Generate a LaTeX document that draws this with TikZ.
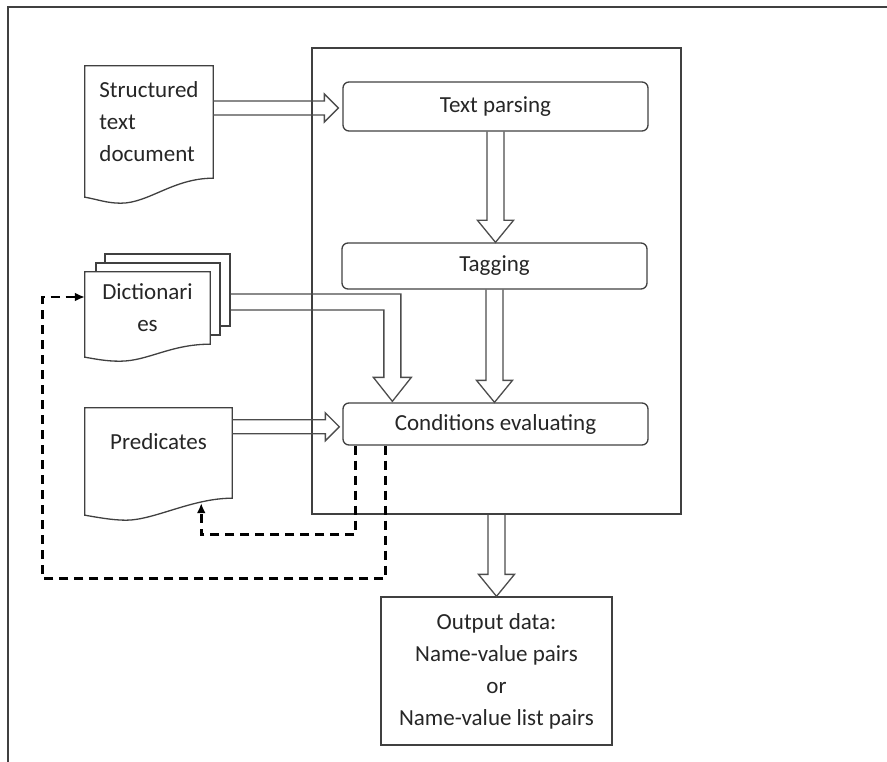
\documentclass[tikz,border=0pt]{standalone}
\usepackage{fontspec}
\setmainfont{Carlito}
\usetikzlibrary{positioning,calc,arrows.meta,backgrounds}

% page outline with a wavy lower edge, hung on a node
\newcommand{\docpath}[3]{(#1.north west) -- (#1.north east) -- (#1.south east)
  .. controls +(-40,0) and +(28,0) .. ($(#1.south west)!0.28!(#1.south east)+(0,#2)$)
  .. controls +(-14,0) and +(12,2) .. ($(#1.south west)+(0,#3)$) -- cycle}
% hollow block arrows
\newcommand{\blockright}[2]{\draw[blockarrow] ($(#1)+(0,-7)$) -- ($(#2|-#1)+(-14,-7)$)
  -- ($(#2|-#1)+(-14,-14)$) -- (#2|-#1) -- ($(#2|-#1)+(-14,14)$)
  -- ($(#2|-#1)+(-14,7)$) -- ($(#1)+(0,7)$);}
\newcommand{\blockdown}[2]{\draw[blockarrow] ($(#1)+(-8.5,0)$) -- ($(#1|-#2)+(-8.5,-22)$)
  -- ($(#1|-#2)+(-18,-22)$) -- (#1|-#2) -- ($(#1|-#2)+(18,-22)$)
  -- ($(#1|-#2)+(8.5,-22)$) -- ($(#1)+(8.5,0)$);}

\begin{document}
\begin{tikzpicture}[x=1pt, y=-1pt,
    every node/.style={font=\fontsize{23}{32}\selectfont, text=black!85},
    procbox/.style={draw=black!75, line width=1.3pt, rounded corners=6pt, minimum width=305pt},
    plainbox/.style={draw=black!75, line width=1.3pt},
    docnode/.style={inner sep=2pt},
    docline/.style={draw=black!75, line width=1.3pt, fill=white},
    blockarrow/.style={draw=black!70, line width=1.3pt},
    feedback/.style={draw=black, line width=2.7pt, dash pattern=on 9pt off 6pt,
        -{Latex[length=10pt,width=9pt]}}]
    \useasboundingbox (0,0) rectangle (887,762);
    \draw[black!75, line width=1.6pt] (887,7) -- (8,7) -- (8,762);

    \node [plainbox, minimum width=369pt, minimum height=466pt] at (496.5,281) (engine) {};
    \node [procbox, minimum height=49pt] at (495.5,106.5) (parse) {Text parsing};
    \node [procbox, minimum height=46pt] at (494.5,266)   (tag)   {Tagging};
    \node [procbox, minimum height=42pt] at (495.5,424)   (cond)  {Conditions evaluating};
    \node [plainbox, align=center, minimum width=231pt, minimum height=148pt]
        at (496.5,671) (out) {Output data:\\Name-value pairs\\or\\Name-value list pairs};

    \node [docnode, align=left, minimum width=128pt, minimum height=112pt] at (149,122) (src) {Structured\\text\\document};
    \node [docnode, align=center, minimum width=125pt, minimum height=72pt] at (147.5,308) (dict) {Dictionari\\es};
    \node [docnode, text depth=22pt, minimum width=147pt, minimum height=90pt] at (158.5,453) (pred) {Predicates};

    \begin{scope}[on background layer]
        \node [docline, minimum width=125pt, minimum height=72pt] at (167.5,290) (dictback) {};
        \node [docline, minimum width=124pt, minimum height=72pt] at (158,299)   (dictmid)  {};
        \draw[docline] \docpath{src}{25}{19};
        \draw[docline] \docpath{dict}{17}{13};
        \draw[docline] \docpath{pred}{22}{17};
    \end{scope}

    \coordinate (srcout)   at ($(src.east)+(0,-14)$);
    \coordinate (parsein)  at ($(parse.west)+(-4,0)$);
    \coordinate (predout)  at ($(pred.north east)+(0,19)$);
    \coordinate (condin)   at ($(cond.west)+(-3,0)$);
    \coordinate (dictin)   at ($(cond.north west)+(50,-1)$);
    \coordinate (predin)   at ($(pred.south west)!0.79!(pred.south east)+(0,5)$);
    \coordinate (dictfbin) at ($(dict.west)+(0,-11)$);
    \coordinate (fbturn)   at ($(cond.south west)+(13,89)$);
    \coordinate (fbdrop)   at ($(cond.south west)+(43,133)$);
    \coordinate (fbcorner) at ($(dictfbin)+(-42,0)$);

    \blockright{srcout}{parsein}
    \blockright{predout}{condin}
    \blockdown{parse.south}{tag.north}
    \blockdown{tag.south}{cond.north}
    \blockdown{engine.south}{out.north}
    \draw[blockarrow] ($(dictback.east)+(0,20)$) -- ($(dictin|-dictback.east)+(-8.5,20)$)
        -- ($(dictin)+(-8.5,-24)$) -- ($(dictin)+(-19,-24)$) -- (dictin)
        -- ($(dictin)+(19,-24)$) -- ($(dictin)+(8.5,-24)$)
        -- ($(dictin|-dictback.east)+(8.5,4)$) -- ($(dictback.east)+(0,4)$);

    % feedback from the evaluation back to the inputs
    \draw[feedback] ($(cond.south west)+(13,0)$) -- (fbturn) -| (predin);
    \draw[feedback] ($(cond.south west)+(43,0)$) -- (fbdrop) -| (fbcorner) -- (dictfbin);
\end{tikzpicture}
\end{document}
